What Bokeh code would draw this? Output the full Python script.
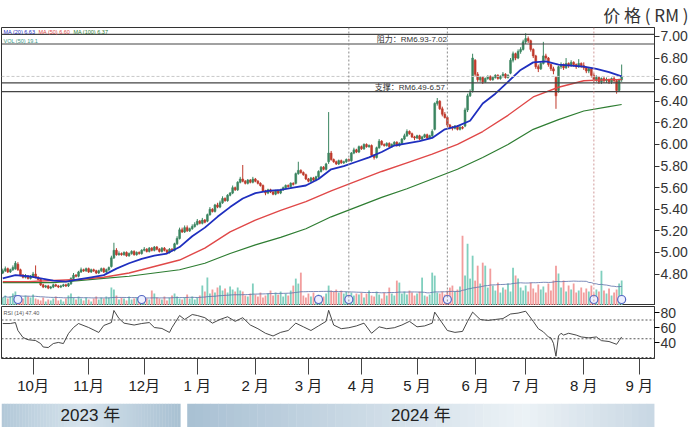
import numpy as np
import pandas as pd
from bokeh.plotting import figure
from bokeh.layouts import column
from bokeh.models import Range1d, ColumnDataSource, FixedTicker, Span, Label, NumeralTickFormatter
from bokeh.embed import file_html
from bokeh.resources import INLINE
from bokeh.core.properties import value

# ---------------- data ----------------
start_date = "2023-09-14"
end_date = "2024-09-13"

opens = [
    4.81, 4.83, 4.85, 4.82, 4.84, 4.85, 4.89, 4.84, 4.79, 4.77,
    4.78, 4.76, 4.78, 4.80, 4.77, 4.75, 4.70, 4.68, 4.69, 4.67,
    4.68, 4.70, 4.69, 4.68, 4.69, 4.70, 4.69, 4.71, 4.76, 4.79,
    4.78, 4.82, 4.84, 4.83, 4.85, 4.82, 4.84, 4.83, 4.81, 4.83,
    4.85, 4.82, 4.84, 4.87, 4.95, 5.02, 4.98, 4.99, 4.98, 5.00,
    4.97, 4.99, 5.01, 4.98, 5.00, 4.99, 5.02, 5.03, 5.01, 5.04,
    5.02, 5.05, 5.03, 5.01, 5.04, 5.02, 5.00, 5.03, 5.02, 5.08,
    5.13, 5.21, 5.19, 5.23, 5.20, 5.22, 5.24, 5.26, 5.29, 5.27,
    5.30, 5.29, 5.35, 5.40, 5.38, 5.44, 5.42, 5.46, 5.50, 5.48,
    5.53, 5.55, 5.60, 5.58, 5.65, 5.68, 5.66, 5.64, 5.67, 5.65,
    5.68, 5.66, 5.64, 5.62, 5.57, 5.55, 5.58, 5.56, 5.54, 5.57,
    5.55, 5.58, 5.60, 5.62, 5.61, 5.64, 5.64, 5.73, 5.76, 5.74,
    5.72, 5.68, 5.66, 5.69, 5.67, 5.70, 5.75, 5.79, 5.77, 5.84,
    5.92, 5.86, 5.84, 5.82, 5.85, 5.83, 5.84, 5.86, 5.85, 5.92,
    5.95, 5.93, 5.98, 5.96, 6.00, 5.98, 5.99, 5.90, 5.88, 5.97,
    6.03, 6.00, 5.99, 6.01, 5.98, 6.00, 6.02, 5.99, 6.01, 6.05,
    6.08, 6.12, 6.10, 6.07, 6.06, 6.08, 6.05, 6.07, 6.09, 6.06,
    6.08, 6.14, 6.38, 6.40, 6.33, 6.28, 6.25, 6.18, 6.16, 6.15,
    6.17, 6.14, 6.16, 6.17, 6.32, 6.45, 6.50, 6.78, 6.65, 6.60,
    6.62, 6.58, 6.61, 6.63, 6.60, 6.62, 6.64, 6.61, 6.63, 6.65,
    6.62, 6.66, 6.78, 6.84, 6.80, 6.86, 6.88, 6.95, 6.98, 6.96,
    6.88, 6.82, 6.72, 6.70, 6.75, 6.82, 6.80, 6.74, 6.70, 6.62,
    6.50, 6.72, 6.74, 6.71, 6.75, 6.73, 6.76, 6.74, 6.72, 6.75,
    6.73, 6.71, 6.68, 6.70, 6.64, 6.60, 6.62, 6.58, 6.61, 6.59,
    6.60, 6.58, 6.61, 6.59, 6.50, 6.60,
]
highs = [
    4.85, 4.87, 4.86, 4.85, 4.88, 4.92, 4.91, 4.85, 4.80, 4.80,
    4.79, 4.79, 4.82, 4.88, 4.78, 4.76, 4.71, 4.70, 4.70, 4.69,
    4.71, 4.71, 4.70, 4.70, 4.71, 4.71, 4.72, 4.77, 4.81, 4.80,
    4.83, 4.86, 4.85, 4.86, 4.86, 4.85, 4.85, 4.84, 4.84, 4.86,
    4.86, 4.85, 4.87, 4.97, 5.09, 5.04, 5.01, 5.00, 5.01, 5.01,
    5.00, 5.02, 5.02, 5.01, 5.01, 5.03, 5.05, 5.04, 5.05, 5.05,
    5.06, 5.06, 5.04, 5.05, 5.05, 5.03, 5.04, 5.04, 5.09, 5.15,
    5.23, 5.23, 5.25, 5.25, 5.23, 5.26, 5.28, 5.31, 5.30, 5.32,
    5.31, 5.36, 5.42, 5.41, 5.45, 5.46, 5.48, 5.52, 5.51, 5.54,
    5.56, 5.62, 5.61, 5.66, 5.70, 5.81, 5.67, 5.68, 5.68, 5.70,
    5.69, 5.67, 5.65, 5.63, 5.58, 5.59, 5.59, 5.57, 5.58, 5.58,
    5.59, 5.61, 5.63, 5.63, 5.65, 5.65, 5.74, 5.84, 5.77, 5.75,
    5.73, 5.69, 5.70, 5.70, 5.71, 5.76, 5.80, 5.80, 5.83, 6.30,
    5.94, 5.87, 5.85, 5.86, 5.86, 5.85, 5.87, 5.87, 5.93, 5.97,
    5.96, 5.99, 5.99, 6.01, 6.01, 6.00, 6.00, 5.91, 5.98, 6.05,
    6.04, 6.01, 6.02, 6.02, 6.01, 6.03, 6.03, 6.02, 6.06, 6.10,
    6.14, 6.13, 6.11, 6.08, 6.09, 6.09, 6.08, 6.10, 6.10, 6.09,
    6.14, 6.39, 6.43, 6.41, 6.35, 6.30, 6.26, 6.19, 6.17, 6.18,
    6.18, 6.17, 6.17, 6.34, 6.47, 6.51, 6.84, 6.79, 6.67, 6.63,
    6.63, 6.62, 6.64, 6.64, 6.63, 6.65, 6.65, 6.64, 6.67, 6.66,
    6.65, 6.80, 6.86, 6.85, 6.88, 6.90, 6.97, 7.03, 7.00, 6.97,
    6.89, 6.83, 6.74, 6.77, 6.95, 6.84, 6.81, 6.75, 6.72, 6.63,
    6.73, 6.76, 6.75, 6.80, 6.76, 6.78, 6.77, 6.75, 6.79, 6.76,
    6.76, 6.72, 6.71, 6.71, 6.66, 6.64, 6.63, 6.62, 6.63, 6.62,
    6.61, 6.62, 6.63, 6.60, 6.61, 6.74,
]
lows = [
    4.80, 4.82, 4.81, 4.81, 4.83, 4.84, 4.83, 4.78, 4.76, 4.76,
    4.75, 4.75, 4.77, 4.76, 4.74, 4.69, 4.67, 4.67, 4.66, 4.66,
    4.67, 4.68, 4.67, 4.67, 4.68, 4.68, 4.68, 4.70, 4.75, 4.77,
    4.77, 4.81, 4.82, 4.82, 4.81, 4.81, 4.82, 4.80, 4.80, 4.82,
    4.81, 4.81, 4.83, 4.86, 4.94, 4.97, 4.97, 4.97, 4.97, 4.96,
    4.96, 4.98, 4.97, 4.97, 4.98, 4.98, 5.01, 5.00, 5.00, 5.01,
    5.01, 5.02, 5.00, 5.00, 5.01, 4.99, 4.99, 5.01, 5.01, 5.07,
    5.12, 5.18, 5.18, 5.19, 5.19, 5.21, 5.23, 5.25, 5.26, 5.26,
    5.27, 5.28, 5.34, 5.37, 5.37, 5.41, 5.41, 5.45, 5.47, 5.47,
    5.52, 5.54, 5.57, 5.57, 5.64, 5.65, 5.63, 5.63, 5.64, 5.64,
    5.65, 5.63, 5.61, 5.56, 5.53, 5.54, 5.55, 5.53, 5.53, 5.54,
    5.54, 5.57, 5.59, 5.60, 5.60, 5.62, 5.63, 5.72, 5.73, 5.71,
    5.67, 5.65, 5.65, 5.66, 5.66, 5.69, 5.74, 5.76, 5.76, 5.82,
    5.85, 5.83, 5.81, 5.81, 5.82, 5.82, 5.83, 5.84, 5.84, 5.91,
    5.92, 5.92, 5.95, 5.95, 5.97, 5.97, 5.89, 5.86, 5.87, 5.96,
    5.99, 5.98, 5.98, 5.97, 5.97, 5.99, 5.98, 5.98, 6.00, 6.04,
    6.07, 6.09, 6.06, 6.04, 6.05, 6.04, 6.04, 6.06, 6.05, 6.05,
    6.07, 6.13, 6.36, 6.32, 6.26, 6.24, 6.16, 6.14, 6.13, 6.14,
    6.13, 6.13, 6.14, 6.16, 6.30, 6.44, 6.48, 6.63, 6.58, 6.58,
    6.56, 6.57, 6.60, 6.59, 6.59, 6.61, 6.60, 6.60, 6.62, 6.61,
    6.61, 6.65, 6.76, 6.78, 6.79, 6.84, 6.87, 6.93, 6.94, 6.86,
    6.80, 6.70, 6.67, 6.69, 6.74, 6.78, 6.72, 6.68, 6.65, 6.33,
    6.48, 6.70, 6.69, 6.70, 6.71, 6.72, 6.72, 6.70, 6.71, 6.71,
    6.69, 6.66, 6.66, 6.62, 6.57, 6.58, 6.56, 6.56, 6.57, 6.57,
    6.56, 6.56, 6.57, 6.47, 6.49, 6.58,
]
closes = [
    4.83, 4.85, 4.82, 4.84, 4.86, 4.90, 4.84, 4.79, 4.77, 4.78,
    4.76, 4.78, 4.80, 4.77, 4.75, 4.70, 4.68, 4.69, 4.67, 4.68,
    4.70, 4.69, 4.68, 4.69, 4.70, 4.69, 4.71, 4.76, 4.79, 4.78,
    4.82, 4.84, 4.83, 4.85, 4.82, 4.84, 4.83, 4.81, 4.83, 4.85,
    4.82, 4.84, 4.86, 4.95, 5.02, 4.98, 4.99, 4.98, 5.00, 4.97,
    4.99, 5.01, 4.98, 5.00, 4.99, 5.02, 5.03, 5.01, 5.04, 5.02,
    5.05, 5.03, 5.01, 5.04, 5.02, 5.00, 5.03, 5.02, 5.08, 5.13,
    5.21, 5.19, 5.23, 5.20, 5.22, 5.24, 5.26, 5.29, 5.27, 5.30,
    5.28, 5.35, 5.40, 5.38, 5.44, 5.42, 5.46, 5.50, 5.48, 5.53,
    5.55, 5.60, 5.58, 5.65, 5.68, 5.66, 5.64, 5.67, 5.65, 5.68,
    5.66, 5.64, 5.62, 5.57, 5.55, 5.58, 5.56, 5.54, 5.57, 5.55,
    5.58, 5.60, 5.62, 5.61, 5.64, 5.63, 5.73, 5.76, 5.74, 5.72,
    5.68, 5.66, 5.69, 5.67, 5.70, 5.75, 5.79, 5.77, 5.82, 5.92,
    5.86, 5.84, 5.82, 5.85, 5.83, 5.84, 5.86, 5.85, 5.92, 5.95,
    5.93, 5.98, 5.96, 6.00, 5.98, 5.99, 5.90, 5.88, 5.97, 6.03,
    6.00, 5.99, 6.01, 5.98, 6.00, 6.02, 5.99, 6.01, 6.05, 6.08,
    6.12, 6.10, 6.07, 6.06, 6.08, 6.05, 6.07, 6.09, 6.06, 6.08,
    6.12, 6.38, 6.40, 6.33, 6.28, 6.25, 6.18, 6.16, 6.15, 6.17,
    6.14, 6.16, 6.15, 6.32, 6.45, 6.48, 6.80, 6.65, 6.60, 6.62,
    6.58, 6.61, 6.63, 6.60, 6.62, 6.64, 6.61, 6.63, 6.65, 6.62,
    6.64, 6.78, 6.84, 6.80, 6.86, 6.88, 6.95, 6.98, 6.96, 6.88,
    6.82, 6.72, 6.70, 6.75, 6.82, 6.80, 6.74, 6.70, 6.68, 6.45,
    6.72, 6.74, 6.71, 6.75, 6.73, 6.76, 6.74, 6.72, 6.75, 6.73,
    6.71, 6.68, 6.70, 6.64, 6.60, 6.62, 6.58, 6.61, 6.59, 6.60,
    6.58, 6.61, 6.59, 6.50, 6.60, 6.63,
]
volumes = [
    8, 10, 7, 9, 12, 14, 9, 8, 7, 10,
    9, 8, 11, 7, 6, 5, 8, 4, 6, 5,
    7, 9, 5, 6, 4, 7, 10, 12, 8, 6,
    9, 7, 5, 8, 6, 4, 7, 9, 6, 8,
    7, 9, 8, 18, 16, 10, 6, 8, 7, 5,
    9, 6, 7, 8, 6, 5, 8, 7, 6, 15,
    12, 8, 7, 6, 9, 5, 8, 10, 12, 9,
    7, 6, 8, 11, 7, 9, 6, 8, 10, 20,
    14, 28, 12, 16, 13, 18, 20, 15, 17, 13,
    19, 16, 14, 18, 15, 14, 10, 9, 12, 22,
    11, 9, 13, 8, 10, 12, 15, 10, 13, 11,
    14, 9, 12, 10, 15, 20, 27, 22, 33, 10,
    8, 12, 9, 13, 7, 11, 10, 9, 12, 20,
    15, 14, 16, 13, 15, 12, 14, 11, 13, 10,
    12, 11, 13, 8, 12, 15, 10, 9, 14, 11,
    7, 13, 10, 18, 12, 10, 25, 23, 12, 14,
    11, 15, 13, 10, 12, 14, 28, 10, 9, 11,
    33, 30, 13, 12, 14, 11, 15, 18, 20, 14,
    16, 19, 70, 30, 62, 27, 50, 25, 40, 22,
    43, 40, 18, 37, 20, 15, 23, 13, 18, 16,
    22, 14, 38, 30, 27, 18, 15, 20, 14, 23,
    17, 13, 21, 16, 19, 13, 22, 15, 25, 40,
    32, 18, 25, 14, 20, 16, 22, 13, 15, 18,
    13, 17, 14, 20, 12, 16, 14, 35, 15, 12,
    17, 10, 13, 16, 22, 25,
]

ma20_x = [0, 5, 10, 15, 20, 25, 30, 35, 40, 45, 50, 55, 60, 65, 70, 75, 80, 85, 90, 95,
          100, 105, 110, 115, 120, 125, 130, 135, 140, 145, 150, 155, 160, 165, 170, 175,
          180, 185, 190, 195, 200, 205, 210, 215, 220, 225, 230, 235, 240, 245]
ma20 = [4.76, 4.79, 4.78, 4.76, 4.74, 4.73, 4.75, 4.77, 4.79, 4.85, 4.90, 4.94, 4.97, 4.99,
        5.05, 5.15, 5.23, 5.33, 5.42, 5.50, 5.55, 5.57, 5.58, 5.60, 5.62, 5.68, 5.77, 5.80,
        5.84, 5.88, 5.93, 5.99, 6.01, 6.03, 6.06, 6.14, 6.17, 6.22, 6.38, 6.47, 6.58, 6.69,
        6.76, 6.77, 6.74, 6.73, 6.72, 6.70, 6.67, 6.63]
ma_x = [0, 10, 20, 30, 40, 50, 60, 70, 80, 90, 100, 110, 120, 130, 140, 150, 160, 170,
        180, 190, 200, 210, 220, 230, 240, 245]
ma50 = [4.73, 4.73, 4.74, 4.75, 4.77, 4.81, 4.87, 4.93, 5.04, 5.19, 5.30, 5.39, 5.47,
        5.57, 5.66, 5.75, 5.83, 5.91, 6.00, 6.12, 6.27, 6.44, 6.53, 6.59, 6.60, 6.60]
ma100 = [4.72, 4.72, 4.72, 4.74, 4.76, 4.78, 4.81, 4.84, 4.90, 4.99, 5.07, 5.14, 5.22,
         5.33, 5.42, 5.51, 5.59, 5.68, 5.77, 5.88, 6.00, 6.14, 6.23, 6.31, 6.35, 6.37]

rsi_x = [0, 3, 5, 6, 8, 10, 13, 15, 16, 18,
         20, 22, 24, 26, 28, 30, 34, 38, 40, 43,
         44, 46, 48, 52, 55, 58, 60, 63, 66, 67,
         70, 72, 75, 77, 80, 83, 86, 89, 92, 95,
         98, 101, 104, 107, 110, 113, 116, 119, 122, 125,
         128, 129, 131, 134, 137, 140, 143, 146, 149, 152,
         155, 158, 161, 164, 167, 170, 171, 173, 176, 179,
         182, 184, 186, 189, 192, 195, 198, 201, 204, 207,
         210, 212, 214, 216, 217, 218, 219, 220, 221, 222,
         224, 227, 229, 232, 235, 237, 240, 243, 244, 245]
rsi_v = [65.3, 65.3, 66.6, 56.0, 46.7, 43.7, 42.6, 38.6, 34.0, 33.3,
         38.6, 40.1, 38.6, 51.9, 60.0, 65.3, 60.0, 53.4, 62.7, 66.6,
         82.7, 72.0, 65.8, 63.3, 65.3, 66.6, 60.0, 58.7, 53.4, 60.0,
         76.0, 70.7, 77.3, 76.0, 73.1, 65.8, 70.7, 74.3, 68.2, 73.1,
         63.3, 58.4, 52.3, 48.7, 53.5, 56.0, 65.8, 60.9, 56.0, 62.1,
         68.2, 82.9, 63.3, 58.4, 59.7, 62.1, 65.8, 52.3, 60.9, 58.4,
         59.7, 63.3, 68.2, 60.9, 62.1, 65.8, 80.5, 70.7, 56.0, 53.5,
         54.8, 68.2, 80.5, 70.7, 69.4, 70.7, 71.9, 78.0, 79.2, 81.7,
         68.2, 58.4, 54.2, 47.4, 46.2, 38.9, 21.7, 48.7, 52.3, 49.9,
         52.3, 49.9, 47.4, 46.2, 47.4, 42.5, 41.3, 37.6, 42.5, 47.4]

price_ticks = [4.80, 5.00, 5.20, 5.40, 5.60, 5.80, 6.00, 6.20, 6.40, 6.60, 6.80, 7.00]
rsi_ticks = [40, 60, 80]
rsi_levels = [70, 45, 20]
month_labels = ["10月", "11月", "12月", "1 月", "2 月", "3 月", "4 月", "5 月",
                "6 月", "7 月", "8 月", "9 月"]
resistance = [6.93, 7.02]
support = [6.49, 6.57]
event_lines = [137, 176, 234]
event_marks = [6, 55, 125, 137, 176, 234, 245]
year_labels = ["2023 年", "2024 年"]
title_text = "价 格 ( RM )"

# ---------------- styling / layout ----------------
FONT = "Liberation Sans, Noto Sans CJK SC"
CJK = "Noto Sans CJK SC"
UP, DN = "#3a8560", "#c0392b"
VUP, VDN = "#80cfbe", "#f29d9d"

all_dates = pd.bdate_range(start_date, end_date)
months = all_dates.to_period("M")
month_ticks = [i for i in range(1, len(all_dates)) if months[i] != months[i - 1]][:len(month_labels)]

N = len(closes)
idx = np.arange(N)
o = np.array(opens)
c = np.array(closes)
up = c >= o
vol_ma = pd.Series(volumes, dtype=float).rolling(50, min_periods=1).mean()

src = ColumnDataSource(dict(
    x=idx, high=highs, low=lows,
    top=np.maximum(o, c), bottom=np.minimum(o, c),
    vol=volumes,
    ccol=[UP if u else DN for u in up],
    vcol=[VUP if u else VDN for u in up],
))

xr = Range1d(-0.5, 258)
P_TOP, P_BOT = 7.083, 4.509
FR_TOP = 26        # page y of the price frame top
FR_H = 279         # price frame height
PX_X = 654 / (xr.end - xr.start)
PX_Y = FR_H / (P_TOP - P_BOT)


def xd(px):
    return xr.start + (px - 1) / PX_X


def yd(py):
    return P_TOP - (py - FR_TOP) / PX_Y


# ---------------- price + volume panel ----------------
p1 = figure(width=690, height=FR_TOP + FR_H, x_range=xr, y_range=Range1d(P_BOT, P_TOP),
            output_backend="svg", toolbar_location=None,
            x_axis_location=None, y_axis_location="right",
            min_border_left=1, min_border_right=35, min_border_top=FR_TOP, min_border_bottom=0)
p1.extra_y_ranges = {"vol": Range1d(0, FR_H)}
p1.grid.visible = False
p1.outline_line_color = "#333333"
p1.outline_line_width = 1

p1.title.text = title_text
p1.title.align = "right"
p1.title.offset = -34
p1.title.standoff = 0
p1.title.vertical_align = "middle"
p1.title.text_font = CJK
p1.title.text_font_size = "17px"
p1.title.text_font_style = "normal"
p1.title.text_color = "#333333"

ya = p1.yaxis[0]
ya.ticker = FixedTicker(ticks=price_ticks)
ya.formatter = NumeralTickFormatter(format="0.00")
ya.major_label_text_font = FONT
ya.major_label_text_font_size = "14px"
ya.major_label_text_color = "#333333"
ya.major_tick_out = 5
ya.major_tick_in = 0
ya.major_label_standoff = 1
ya.minor_tick_line_color = None
ya.axis_line_color = "#333333"
ya.major_tick_line_color = "#333333"

# volume
p1.vbar(x="x", top="vol", bottom=0, width=0.72, fill_color="vcol", line_color=None,
        y_range_name="vol", source=src)
p1.line(idx, vol_ma, color="#5b6fa8", line_width=0.8, y_range_name="vol")

# reference lines
for lvl in resistance + support:
    p1.add_layout(Span(location=lvl, dimension="width", line_color="#444444", line_width=1.2))
p1.add_layout(Span(location=closes[-1], dimension="width", line_color="#c8c8c8",
                   line_width=1, line_dash="3 2"))
for k, e in enumerate(event_lines):
    p1.add_layout(Span(location=e, dimension="height",
                       line_color="#d09a9a" if k == len(event_lines) - 1 else "#8a8a8a",
                       line_width=1, line_dash="2 2"))

# candles
p1.segment(x0="x", y0="high", x1="x", y1="low", color="ccol", line_width=1, source=src)
p1.vbar(x="x", top="top", bottom="bottom", width=0.72, fill_color="ccol", line_color="ccol",
        line_width=0.6, source=src)

# moving averages
p1.line(ma_x, ma100, color="#2e7d32", line_width=1.2)
p1.line(ma_x, ma50, color="#e04848", line_width=1.4)
p1.line(ma20_x, ma20, color="#1f2fbf", line_width=1.8)

# event markers
p1.scatter(x=event_marks, y=[6] * len(event_marks), y_range_name="vol", marker="circle",
           size=8, fill_color="#eef0ff", line_color="#5467c4", line_width=1.2)

# texts
p1.add_layout(Label(x=xd(412), y=sum(resistance) / 2, text="阻力：RM6.93-7.02",
                    text_font=FONT, text_font_size="8px", text_color="#333333",
                    text_align="center", text_baseline="middle"))
p1.add_layout(Label(x=xd(410), y=sum(support) / 2, text="支撑：RM6.49-6.57",
                    text_font=FONT, text_font_size="8px", text_color="#333333",
                    text_align="center", text_baseline="middle"))
legend_bits = [("MA (20) %.2f" % ma20[-1], "#1f2fbf", 3),
               ("MA (50) %.2f" % ma50[-1], "#e04848", 38),
               ("MA (100) %.2f" % ma100[-1], "#2e7d32", 73)]
for txt, col, px in legend_bits:
    p1.add_layout(Label(x=xd(px), y=yd(31), text=txt, text_font=FONT, text_font_size="5.5px",
                        text_color=col, text_baseline="middle"))
p1.add_layout(Label(x=xd(3), y=yd(40), text="VOL (50) %.1f" % vol_ma.iloc[-1],
                    text_font=FONT, text_font_size="5.5px", text_color="#3a9a88",
                    text_baseline="middle"))

# ---------------- RSI panel ----------------
R_TOP, R_BOT = 88.0, 18.67
p2 = figure(width=690, height=92, x_range=xr, y_range=Range1d(R_BOT, R_TOP),
            output_backend="svg", toolbar_location=None, y_axis_location="right",
            min_border_left=1, min_border_right=35, min_border_top=1, min_border_bottom=39)
p2.grid.visible = False
p2.outline_line_color = "#333333"
for lvl in rsi_levels:
    p2.add_layout(Span(location=lvl, dimension="width", line_color="#555555",
                       line_width=1, line_dash="2 2"))
p2.line(rsi_x, rsi_v, color="#333333", line_width=0.9)
p2.add_layout(Label(x=xd(3), y=R_TOP - 6 * (R_TOP - R_BOT) / 52, text="RSI (14) %.2f" % rsi_v[-1],
                    text_font=FONT, text_font_size="5.5px", text_color="#555555",
                    text_baseline="middle"))

ry = p2.yaxis[0]
ry.ticker = FixedTicker(ticks=rsi_ticks)
ry.major_label_text_font = FONT
ry.major_label_text_font_size = "14px"
ry.major_label_text_color = "#333333"
ry.major_tick_out = 5
ry.major_tick_in = 0
ry.major_label_standoff = 1
ry.minor_tick_line_color = None
ry.axis_line_color = "#333333"

rx = p2.xaxis[0]
rx.ticker = FixedTicker(ticks=month_ticks)
rx.major_label_overrides = {t: lab for t, lab in zip(month_ticks, month_labels)}
rx.major_label_text_font = FONT
rx.major_label_text_font_size = "15px"
rx.major_label_text_color = "#222222"
rx.major_tick_out = 16
rx.major_tick_in = 0
rx.major_label_standoff = 2
rx.minor_tick_line_color = None
rx.axis_line_color = None
rx.major_tick_line_color = "#444444"

# ---------------- year band ----------------
p3 = figure(width=690, height=30, x_range=Range1d(0, 654), y_range=Range1d(0, 1),
            output_backend="svg", toolbar_location=None,
            x_axis_location=None, y_axis_location=None,
            min_border_left=1, min_border_right=35, min_border_top=6, min_border_bottom=0)
p3.grid.visible = False
p3.outline_line_color = None


def strips(x0, x1, stops, n=60):
    L, R, C = [], [], []
    w = (x1 - x0) / n
    for k in range(n):
        t = (k + 0.5) / n
        rgb = stops[-1][1]
        for (t0, c0), (t1, c1) in zip(stops[:-1], stops[1:]):
            if t0 <= t <= t1:
                f = (t - t0) / (t1 - t0)
                rgb = tuple(int(round(a + (b - a) * f)) for a, b in zip(c0, c1))
                break
        L.append(x0 + k * w)
        R.append(x0 + (k + 1) * w + 0.4)
        C.append("#%02x%02x%02x" % rgb)
    return L, R, C


bands = [(0, 179, [(0, (178, 200, 216)), (0.45, (214, 227, 236)), (1, (168, 192, 210))]),
         (186, 654, [(0, (168, 192, 211)), (0.72, (236, 242, 246)), (1, (200, 215, 227))])]
for x0, x1, st in bands:
    L, R, C = strips(x0, x1, st)
    p3.quad(left=L, right=R, bottom=0, top=1, fill_color=C, line_color=None)
p3.text(x=[89, 420], y=[0.5, 0.5], text=year_labels, text_font=value(FONT),
        text_font_size="17px", text_color="#222222", text_align="center",
        text_baseline="middle")

layout = column(p1, p2, p3, spacing=0)
open("out.html", "w").write(file_html(layout, INLINE))
